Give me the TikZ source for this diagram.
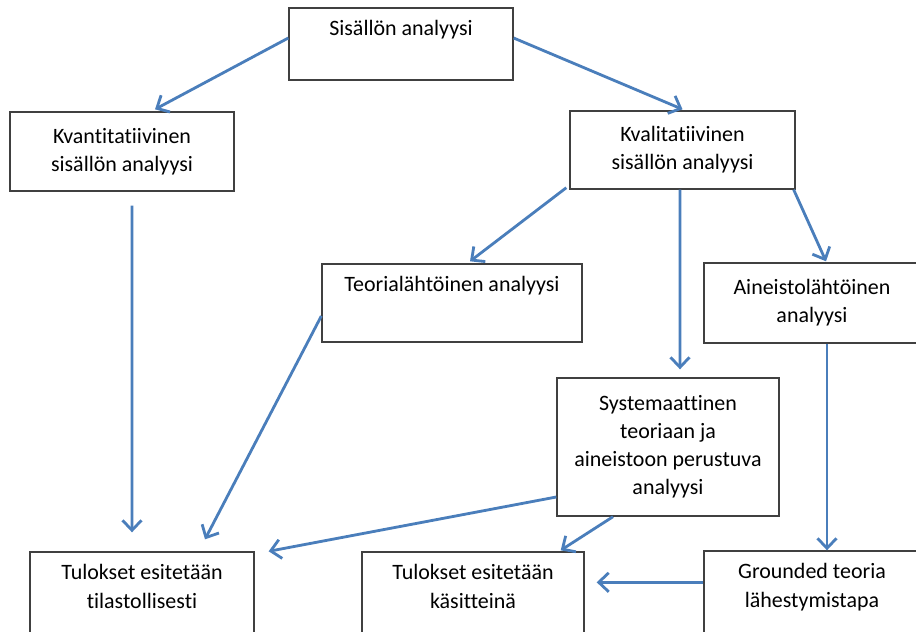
\documentclass[tikz,border=0pt]{standalone}
\usepackage{fontspec}
\setmainfont{Carlito}[Ligatures=NoCommon]
\usetikzlibrary{arrows.meta}
\definecolor{arrowblue}{RGB}{74,126,187}
\definecolor{boxgray}{RGB}{64,64,64}
\tikzset{
  box/.style={draw=boxgray, line width=0.8pt, align=center, inner xsep=0pt,
    inner ysep=0.22cm, font=\fontsize{12.5}{16}\selectfont},
  arr/.style={draw=arrowblue, line width=1.6pt,
    -{Straight Barb[length=0.2cm,width=0.38cm]}}
}
\begin{document}
\begin{tikzpicture}[x=0.02cm, y=-0.02cm]
  \useasboundingbox (0,0) rectangle (916,632);
  % top
  \node[box, minimum width=4.48cm, minimum height=1.44cm,
    text height=0.33cm, text depth=0.67cm] at (401,44) (sis) {Sisällön analyysi};
  % second row
  \node[box, minimum width=4.48cm, minimum height=1.58cm] at (122,151.5) (kvant)
    {Kvantitatiivinen\\sisällön analyysi};
  \node[box, minimum width=4.5cm, minimum height=1.56cm] at (682.5,150) (kval)
    {Kvalitatiivinen\\sisällön analyysi};
  % third row
  \node[box, minimum width=5.2cm, minimum height=1.56cm,
    text height=0.33cm, text depth=0.79cm] at (452,303) (teoria)
    {Teorialähtöinen analyysi};
  \node[box, minimum width=4.32cm, minimum height=1.6cm] at (812,303) (ain)
    {Aineistolähtöinen\\analyysi};
  \node[box, minimum width=4.44cm, minimum height=2.76cm] at (668,447) (syst)
    {Systemaattinen\\teoriaan ja\\aineistoon perustuva\\analyysi};
  % bottom row
  \node[box, minimum width=4.48cm, minimum height=2cm,
    text height=0.9cm, text depth=0.66cm] at (142,602) (tilasto)
    {Tulokset esitetään\\tilastollisesti};
  \node[box, minimum width=4.44cm, minimum height=2cm,
    text height=0.9cm, text depth=0.66cm] at (473,602) (kasite)
    {Tulokset esitetään\\käsitteinä};
  \node[box, minimum width=4.32cm, minimum height=2cm,
    text height=0.9cm, text depth=0.66cm] at (812,601) (ground)
    {Grounded teoria\\lähestymistapa};
  % arrows
  \draw[arr] ([yshift=0.12cm]sis.west) -- ([xshift=0.66cm,yshift=0.04cm]kvant.north);
  \draw[arr] ([yshift=0.12cm]sis.east) -- ([yshift=0.02cm]kval.north);
  \draw[arr, shorten <=0.28cm, shorten >=0.38cm] ([xshift=0.2cm]kvant.south)
    -- ([xshift=-0.2cm]tilasto.north);
  \draw[arr] ([xshift=-0.06cm,yshift=0.04cm]kval.south west)
    -- ([xshift=0.36cm,yshift=0.04cm]teoria.north);
  \draw[arr, shorten >=0.16cm] ([xshift=-0.05cm]kval.south) -- ([xshift=0.24cm]syst.north);
  \draw[arr] ([xshift=-0.04cm]kval.south east)
    -- ([xshift=0.28cm,yshift=0.02cm]ain.north);
  \draw[arr] ([yshift=-0.26cm]teoria.west) -- ([xshift=1.26cm,yshift=0.24cm]tilasto.north);
  \draw[arr] ([xshift=0.3cm]ain.south) -- ([xshift=0.3cm]ground.north);
  \draw[arr] ([yshift=-1cm]syst.west) -- ([xshift=0.28cm]tilasto.north east);
  \draw[arr] ([xshift=-1.1cm]syst.south) -- ([xshift=-0.48cm,yshift=0.02cm]kasite.north east);
  \draw[arr] ([yshift=-0.64cm]ground.north west) -- ([xshift=0.24cm,yshift=-0.62cm]kasite.north east);
\end{tikzpicture}
\end{document}
